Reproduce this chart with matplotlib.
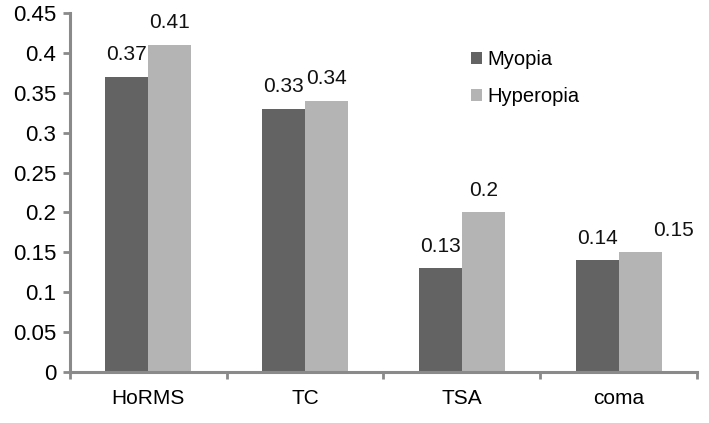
import matplotlib
matplotlib.use("Agg")
import matplotlib.pyplot as plt
import numpy as np

plt.rcParams['font.family'] = ['Liberation Sans', 'DejaVu Sans']

categories = ["HoRMS", "TC", "TSA", "coma"]
myopia = [0.37, 0.33, 0.13, 0.14]
hyperopia = [0.41, 0.34, 0.20, 0.15]
yticks = [0, 0.05, 0.1, 0.15, 0.2, 0.25, 0.3, 0.35, 0.4, 0.45]
ytick_labels = ["0", "0.05", "0.1", "0.15", "0.2", "0.25", "0.3", "0.35", "0.4", "0.45"]

fig = plt.figure(figsize=(7.09, 4.23), dpi=100)
ax = fig.add_axes([70/709, (423-372)/423, (697-70)/709, (372-13)/423])

x = np.arange(len(categories))
w = 0.275
c_dark = "#636363"
c_light = "#b4b4b4"
b1 = ax.bar(x - w/2, myopia, w, color=c_dark, label="Myopia")
b2 = ax.bar(x + w/2, hyperopia, w, color=c_light, label="Hyperopia")

for rect, v in zip(b1, myopia):
    ax.annotate(f"{v:g}", (rect.get_x() + rect.get_width()/2, v), xytext=(0, 9),
                textcoords="offset points", ha="center", va="bottom", fontsize=15, color="#111111")
for i, (rect, v) in enumerate(zip(b2, hyperopia)):
    dx = 24 if i == 3 else 0
    ax.annotate(f"{v:g}", (rect.get_x() + rect.get_width()/2, v), xytext=(dx, 9),
                textcoords="offset points", ha="center", va="bottom", fontsize=15, color="#111111")

ax.set_xlim(-0.5, len(categories) - 0.5)
ax.set_ylim(0, 0.45)
ax.set_yticks(yticks)
ax.set_yticklabels(ytick_labels, fontsize=16)
ax.set_xticks(np.arange(len(categories) + 1) - 0.5)
ax.set_xticklabels([])
ax.set_xticks(x, minor=True)
ax.set_xticklabels(categories, minor=True, fontsize=15)
ax.tick_params(axis="x", which="minor", length=0, pad=12)
ax.tick_params(axis="x", which="major", length=5, width=2, color="#8a8a8a", direction="out")
ax.tick_params(axis="y", length=5, width=2, color="#8a8a8a", direction="out", pad=5)

for s in ["top", "right"]:
    ax.spines[s].set_visible(False)
for s in ["left", "bottom"]:
    ax.spines[s].set_color("#8a8a8a")
    ax.spines[s].set_linewidth(2.2)

leg = ax.legend(loc="upper left", bbox_to_anchor=((453-70)/627, (372-32)/359), frameon=False,
                fontsize=14.5, handlelength=0.55, handleheight=0.55, handletextpad=0.25, labelspacing=0.9)

fig.savefig("out.png", dpi=100)
